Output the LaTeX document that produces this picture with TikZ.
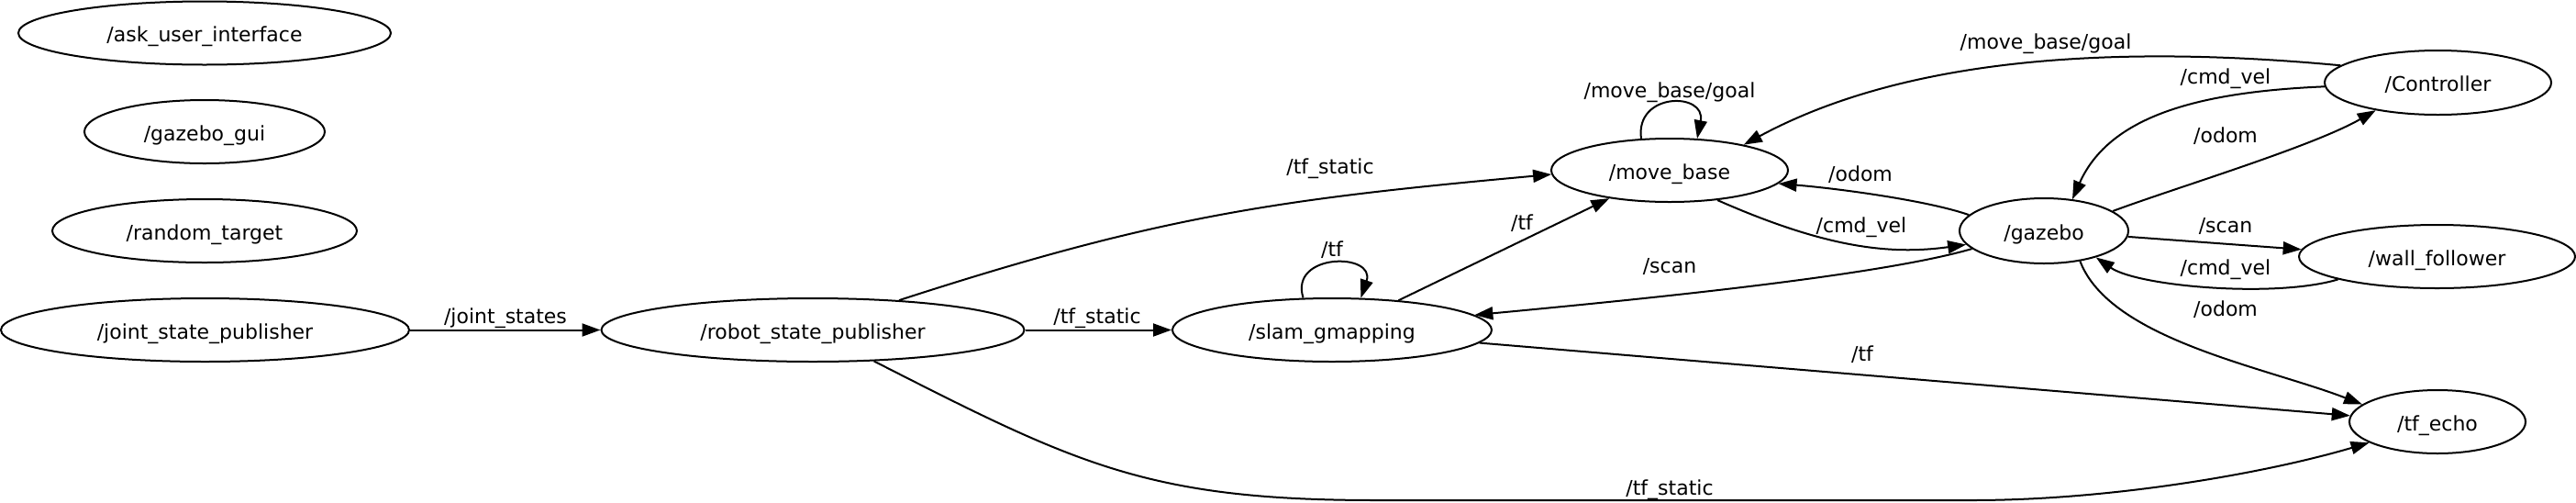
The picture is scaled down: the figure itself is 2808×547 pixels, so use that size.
\documentclass[tikz,border=0pt]{standalone}
\usepackage{fontspec}
\setmainfont{DejaVu Sans}
\usetikzlibrary{shapes.geometric, arrows.meta, positioning}

\begin{document}
\begin{tikzpicture}[x=1pt, y=-1pt,
    rosnode/.style={draw, ellipse, line width=2pt, inner sep=0pt, minimum height=69pt,
        text height=19pt, text depth=0pt, font=\fontsize{22}{26}\selectfont},
    topic/.style={inner sep=0pt, text height=19pt, text depth=0pt, font=\fontsize{22}{26}\selectfont},
    pub/.style={draw, line width=2pt, -{Triangle[length=20pt, width=14pt]}}]
    \useasboundingbox (0,0) rectangle (2808,547);

    \node[rosnode, minimum width=406pt] (ask) at (223,36) {/ask\_user\_interface};
    \node[rosnode, minimum width=262pt] (gui) at (223,143.5) {/gazebo\_gui};
    \node[rosnode, minimum width=332pt] (rnd) at (223,251.5) {/random\_target};
    \node[rosnode, minimum width=445pt] (jsp) at (223.5,359.5) {/joint\_state\_publisher};
    \node[rosnode, minimum width=461pt] (rsp) at (886,359.5) {/robot\_state\_publisher};
    \node[rosnode, minimum width=348pt] (slam) at (1452,359.5) {/slam\_gmapping};
    \node[rosnode, minimum width=258pt] (mb) at (1820,185.5) {/move\_base};
    \node[rosnode, minimum width=184pt, minimum height=71pt] (gz) at (2228,251.5) {/gazebo};
    \node[rosnode, minimum width=247pt, minimum height=70pt] (ctrl) at (2657.5,90) {/Controller};
    \node[rosnode, minimum width=301pt] (wf) at (2656.5,279.5) {/wall\_follower};
    \node[rosnode, minimum width=192pt] (tfe) at (2657,459.5) {/tf\_echo};

    \node[topic] (Ljs) at (551,343) {/joint\_states};
    \node[topic] (Ltfs1) at (1196,343) {/tf\_static};
    \node[topic] (Ltfs2) at (1450,180) {/tf\_static};
    \node[topic] (Ltfs3) at (1820,530) {/tf\_static};
    \node[topic] (Ltf1) at (1452,270) {/tf};
    \node[topic] (Ltf2) at (1659,241) {/tf};
    \node[topic] (Ltf3) at (2030,384) {/tf};
    \node[topic] (Lgoal1) at (1820,97) {/move\_base/goal};
    \node[topic] (Lgoal2) at (2230,44) {/move\_base/goal};
    \node[topic] (Lscan1) at (1820,288) {/scan};
    \node[topic] (Lscan2) at (2426,244) {/scan};
    \node[topic] (Lodom1) at (2028,188) {/odom};
    \node[topic] (Lodom2) at (2426,146) {/odom};
    \node[topic] (Lodom3) at (2426,335) {/odom};
    \node[topic] (Lcmd1) at (2029,244) {/cmd\_vel};
    \node[topic] (Lcmd2) at (2426,82) {/cmd\_vel};
    \node[topic] (Lcmd3) at (2426,290) {/cmd\_vel};

    \draw[pub] (jsp.east) -- (rsp.west);
    \draw[pub] (rsp.east) -- (slam.west);
    \draw[pub] (rsp.19) .. controls (1264,235) and (1394,217) .. (mb.182);
    \draw[pub] (rsp.333) .. controls (1172,505) and (1250,545) .. (1500,545) -- (2150,545)
        .. controls (2300,545) and (2468,516) .. (tfe.197);
    \draw[pub] (slam.132) .. controls (1405,275) and (1500,275) .. (slam.48);
    \draw[pub] (slam.24) -- (mb.205);
    \draw[pub] (slam.355) -- (tfe.176);
    \draw[pub] (mb.132) .. controls (1782,100) and (1860,100) .. (mb.49);
    \draw[pub] (mb.328) .. controls (1990,270) and (2060,278) .. (gz.190);
    \draw[pub] (gz.168) .. controls (2100,218) and (2000,205) .. (mb.353);
    \draw[pub] (gz.194) .. controls (2050,300) and (1800,325) .. (slam.6);
    \draw[pub] (gz.16) .. controls (2370,205) and (2520,160) .. (ctrl.204);
    \draw[pub] (gz.356) -- (wf.177);
    \draw[pub] (gz.320) .. controls (2300,370) and (2470,400) .. (tfe.167);
    \draw[pub] (ctrl.170) .. controls (2303,48) and (2076,63) .. (mb.19);
    \draw[pub] (ctrl.182) .. controls (2400,100) and (2300,125) .. (gz.48);
    \draw[pub] (wf.193) .. controls (2480,325) and (2330,312) .. (gz.333);
\end{tikzpicture}
\end{document}
